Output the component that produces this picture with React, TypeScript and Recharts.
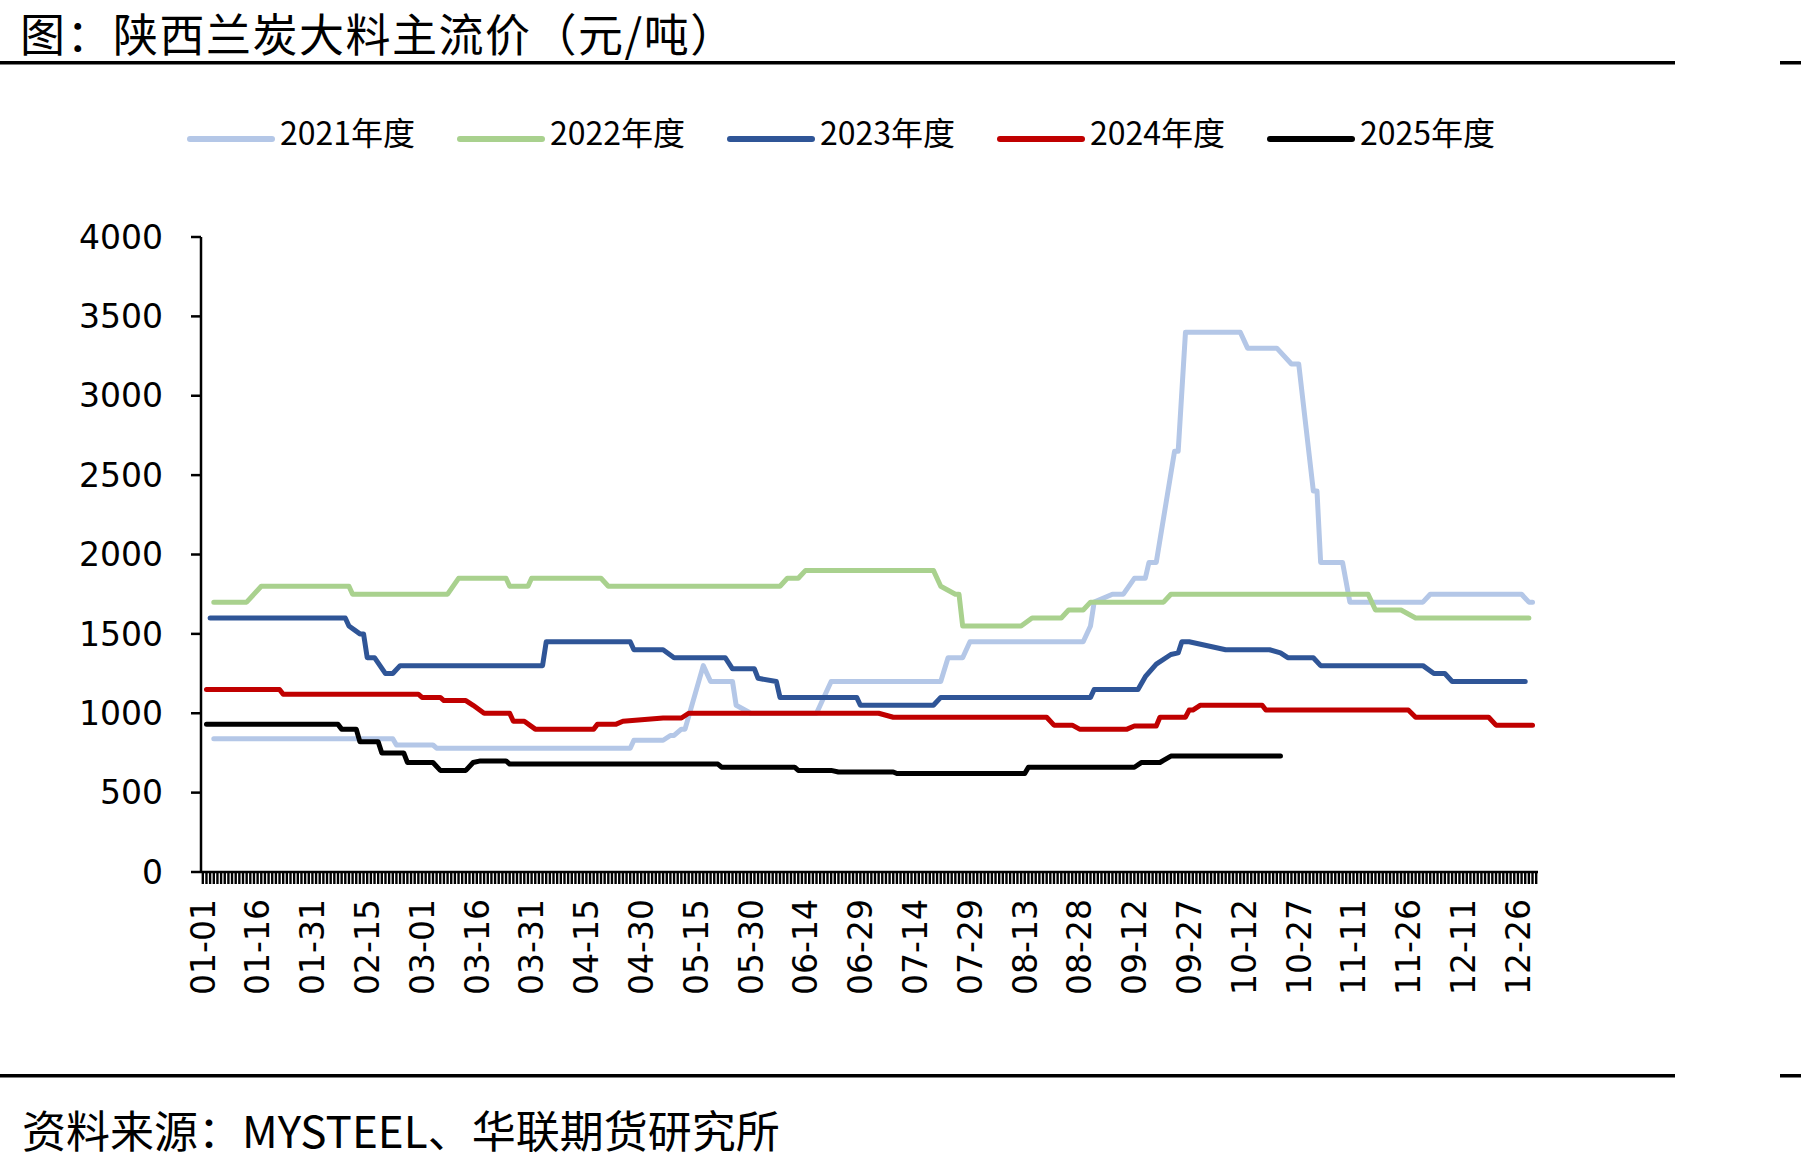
import React from 'react'
import { LineChart, Line, XAxis, YAxis } from 'recharts'

// leap-year calendar for the category axis
const monthDays = [31, 29, 31, 30, 31, 30, 31, 31, 30, 31, 30, 31]

const tickLabels = [
  '01-01', '01-16', '01-31', '02-15', '03-01', '03-16', '03-31', '04-15', '04-30',
  '05-15', '05-30', '06-14', '06-29', '07-14', '07-29', '08-13', '08-28', '09-12',
  '09-27', '10-12', '10-27', '11-11', '11-26', '12-11', '12-26',
]

const yTicks = [0, 500, 1000, 1500, 2000, 2500, 3000, 3500, 4000]

// price quotes (元/吨) at the dates where the price changes
const p2021: [string, number][] = [
  ['01-04', 840], ['02-22', 840], ['02-23', 800], ['03-04', 800], ['03-05', 780],
  ['04-27', 780], ['04-28', 830], ['05-06', 830], ['05-08', 860], ['05-09', 860],
  ['05-11', 900], ['05-12', 900], ['05-17', 1300], ['05-19', 1200], ['05-25', 1200],
  ['05-26', 1050], ['05-30', 1000], ['06-17', 1000], ['06-21', 1200], ['07-21', 1200],
  ['07-23', 1350], ['07-27', 1350], ['07-29', 1450], ['08-29', 1450], ['08-31', 1550],
  ['09-01', 1700], ['09-06', 1750], ['09-09', 1750], ['09-12', 1850], ['09-15', 1850],
  ['09-16', 1950], ['09-18', 1950], ['09-23', 2650], ['09-24', 2650], ['09-26', 3400],
  ['10-11', 3400], ['10-13', 3300], ['10-21', 3300], ['10-25', 3200], ['10-27', 3200],
  ['10-29', 2800], ['10-31', 2400], ['11-01', 2400], ['11-02', 1950], ['11-08', 1950],
  ['11-10', 1700], ['11-30', 1700], ['12-02', 1750], ['12-27', 1750], ['12-29', 1700],
  ['12-30', 1700],
]

const p2022: [string, number][] = [
  ['01-04', 1700], ['01-13', 1700], ['01-17', 1800], ['02-10', 1800], ['02-11', 1750],
  ['03-08', 1750], ['03-11', 1850], ['03-24', 1850], ['03-25', 1800], ['03-30', 1800],
  ['03-31', 1850], ['04-19', 1850], ['04-21', 1800], ['06-07', 1800], ['06-09', 1850],
  ['06-12', 1850], ['06-14', 1900], ['07-19', 1900], ['07-21', 1800], ['07-25', 1750],
  ['07-26', 1750], ['07-27', 1550], ['08-12', 1550], ['08-15', 1600], ['08-23', 1600],
  ['08-25', 1650], ['08-29', 1650], ['08-31', 1700], ['09-20', 1700], ['09-22', 1750],
  ['11-15', 1750], ['11-17', 1650], ['11-24', 1650], ['11-28', 1600], ['12-29', 1600],
]

const p2023: [string, number][] = [
  ['01-03', 1600], ['02-09', 1600], ['02-10', 1550], ['02-13', 1500], ['02-14', 1500],
  ['02-15', 1350], ['02-17', 1350], ['02-20', 1250], ['02-22', 1250], ['02-24', 1300],
  ['04-03', 1300], ['04-04', 1450], ['04-27', 1450], ['04-28', 1400], ['05-06', 1400],
  ['05-09', 1350], ['05-23', 1350], ['05-25', 1280], ['05-31', 1280], ['06-01', 1220],
  ['06-06', 1200], ['06-07', 1100], ['06-28', 1100], ['06-29', 1050], ['07-19', 1050],
  ['07-21', 1100], ['08-31', 1100], ['09-01', 1150], ['09-13', 1150], ['09-15', 1230],
  ['09-18', 1310], ['09-22', 1370], ['09-24', 1380], ['09-25', 1450], ['09-27', 1450],
  ['10-07', 1400], ['10-19', 1400], ['10-22', 1380], ['10-24', 1350], ['10-31', 1350],
  ['11-02', 1300], ['11-30', 1300], ['12-03', 1250], ['12-06', 1250], ['12-08', 1200],
  ['12-28', 1200],
]

const p2024: [string, number][] = [
  ['01-02', 1150], ['01-22', 1150], ['01-23', 1120], ['02-29', 1120], ['03-01', 1100],
  ['03-06', 1100], ['03-07', 1080], ['03-13', 1080], ['03-15', 1050], ['03-18', 1000],
  ['03-25', 1000], ['03-26', 950], ['03-29', 950], ['04-01', 900], ['04-17', 900],
  ['04-18', 930], ['04-23', 930], ['04-25', 950], ['05-06', 970], ['05-11', 970],
  ['05-13', 1000], ['07-04', 1000], ['07-08', 975], ['08-19', 975], ['08-21', 925],
  ['08-26', 925], ['08-28', 900], ['09-10', 900], ['09-12', 920], ['09-18', 920],
  ['09-19', 975], ['09-26', 975], ['09-27', 1020], ['09-28', 1020], ['09-30', 1050],
  ['10-17', 1050], ['10-18', 1020], ['11-26', 1020], ['11-28', 975], ['12-18', 975],
  ['12-20', 925], ['12-30', 925],
]

const p2025: [string, number][] = [
  ['01-02', 930], ['02-07', 930], ['02-08', 900], ['02-12', 900], ['02-13', 820],
  ['02-18', 820], ['02-19', 750], ['02-25', 750], ['02-26', 690], ['03-04', 690],
  ['03-06', 640], ['03-13', 640], ['03-15', 690], ['03-17', 700], ['03-24', 700],
  ['03-25', 680], ['05-21', 680], ['05-22', 660], ['06-11', 660], ['06-12', 640],
  ['06-21', 640], ['06-23', 630], ['07-08', 630], ['07-09', 620], ['08-13', 620],
  ['08-14', 660], ['09-12', 660], ['09-14', 690], ['09-19', 690], ['09-22', 730],
  ['10-22', 730],
]

const series = [
  { key: 'y2021', name: '2021年度', color: '#B4C7E7', points: p2021 },
  { key: 'y2022', name: '2022年度', color: '#A9D18E', points: p2022 },
  { key: 'y2023', name: '2023年度', color: '#2F5597', points: p2023 },
  { key: 'y2024', name: '2024年度', color: '#C00000', points: p2024 },
  { key: 'y2025', name: '2025年度', color: '#000000', points: p2025 },
]

const pad = (n: number) => String(n).padStart(2, '0')

const dates: string[] = []
monthDays.forEach((n, m) => {
  for (let d = 1; d <= n; d++) dates.push(`${pad(m + 1)}-${pad(d)}`)
})

const rows = dates.map((date) => {
  const row: Record<string, string | number | null> = { date }
  series.forEach((s) => {
    const hit = s.points.find((p) => p[0] === date)
    row[s.key] = hit ? hit[1] : null
  })
  return row
})

const AXIS_FONT = '"DejaVu Sans", Verdana, sans-serif'
const CJK_FONT = '"Noto Sans CJK SC", "Noto Sans", sans-serif'

// every day gets a tick mark, only the 15-day labels get text
const DateTick = (props: any) => {
  const { x, y, payload } = props
  if (!tickLabels.includes(payload.value)) return null
  const ty = y + 13
  return (
    <text
      x={x}
      y={ty}
      transform={`rotate(-90, ${x}, ${ty})`}
      textAnchor="end"
      dy="0.36em"
      fontFamily={AXIS_FONT}
      fontSize={33}
      fill="#000"
    >
      {payload.value}
    </text>
  )
}

export default function App() {
  return (
    <div style={{ position: 'absolute', left: 0, top: 0, width: 1801, height: 1166, background: '#fff' }}>
      <svg width={1801} height={1166} style={{ position: 'absolute', left: 0, top: 0 }}>
        <text x={20} y={52} fontFamily={CJK_FONT} fontSize={45} letterSpacing={1.5} fill="#000">
          图：陕西兰炭大料主流价（元/吨）
        </text>
        <rect x={0} y={61} width={1675} height={3.5} fill="#000" />
        <rect x={1780} y={61} width={21} height={3.5} fill="#000" />
        <rect x={0} y={1074} width={1675} height={3.5} fill="#000" />
        <rect x={1780} y={1074} width={21} height={3.5} fill="#000" />

        {series.map((s, i) => (
          <g key={s.key}>
            <line
              x1={190 + 270 * i}
              x2={272 + 270 * i}
              y1={139}
              y2={139}
              stroke={s.color}
              strokeWidth={6}
              strokeLinecap="round"
            />
            <text x={280 + 270 * i} y={145} fontFamily={CJK_FONT} fontSize={32} fill="#000">
              {s.name}
            </text>
          </g>
        ))}

        <text x={22} y={1148} fontFamily={CJK_FONT} fontSize={44} fill="#000">
          资料来源：MYSTEEL、华联期货研究所
        </text>
      </svg>

      <div style={{ position: 'absolute', left: 0, top: 0 }}>
        <LineChart
          width={1801}
          height={1166}
          data={rows}
          margin={{ top: 237, right: 263, bottom: 144, left: 0 }}
        >
          <XAxis
            dataKey="date"
            scale="band"
            interval={0}
            height={150}
            tickSize={12}
            tick={<DateTick />}
            axisLine={{ stroke: '#000', strokeWidth: 2.5 }}
            tickLine={{ stroke: '#000', strokeWidth: 2.4 }}
          />
          <YAxis
            width={201}
            domain={[0, 4000]}
            ticks={yTicks}
            interval={0}
            tickSize={10}
            tickMargin={28}
            axisLine={{ stroke: '#000', strokeWidth: 2.5 }}
            tickLine={{ stroke: '#000', strokeWidth: 2.5 }}
            tick={{ fill: '#000', fontSize: 33, fontFamily: AXIS_FONT }}
          />
          {series.map((s) => (
            <Line
              key={s.key}
              type="linear"
              dataKey={s.key}
              name={s.name}
              stroke={s.color}
              strokeWidth={5}
              strokeLinejoin="round"
              strokeLinecap="round"
              dot={false}
              activeDot={false}
              connectNulls
              isAnimationActive={false}
            />
          ))}
        </LineChart>
      </div>
    </div>
  )
}
